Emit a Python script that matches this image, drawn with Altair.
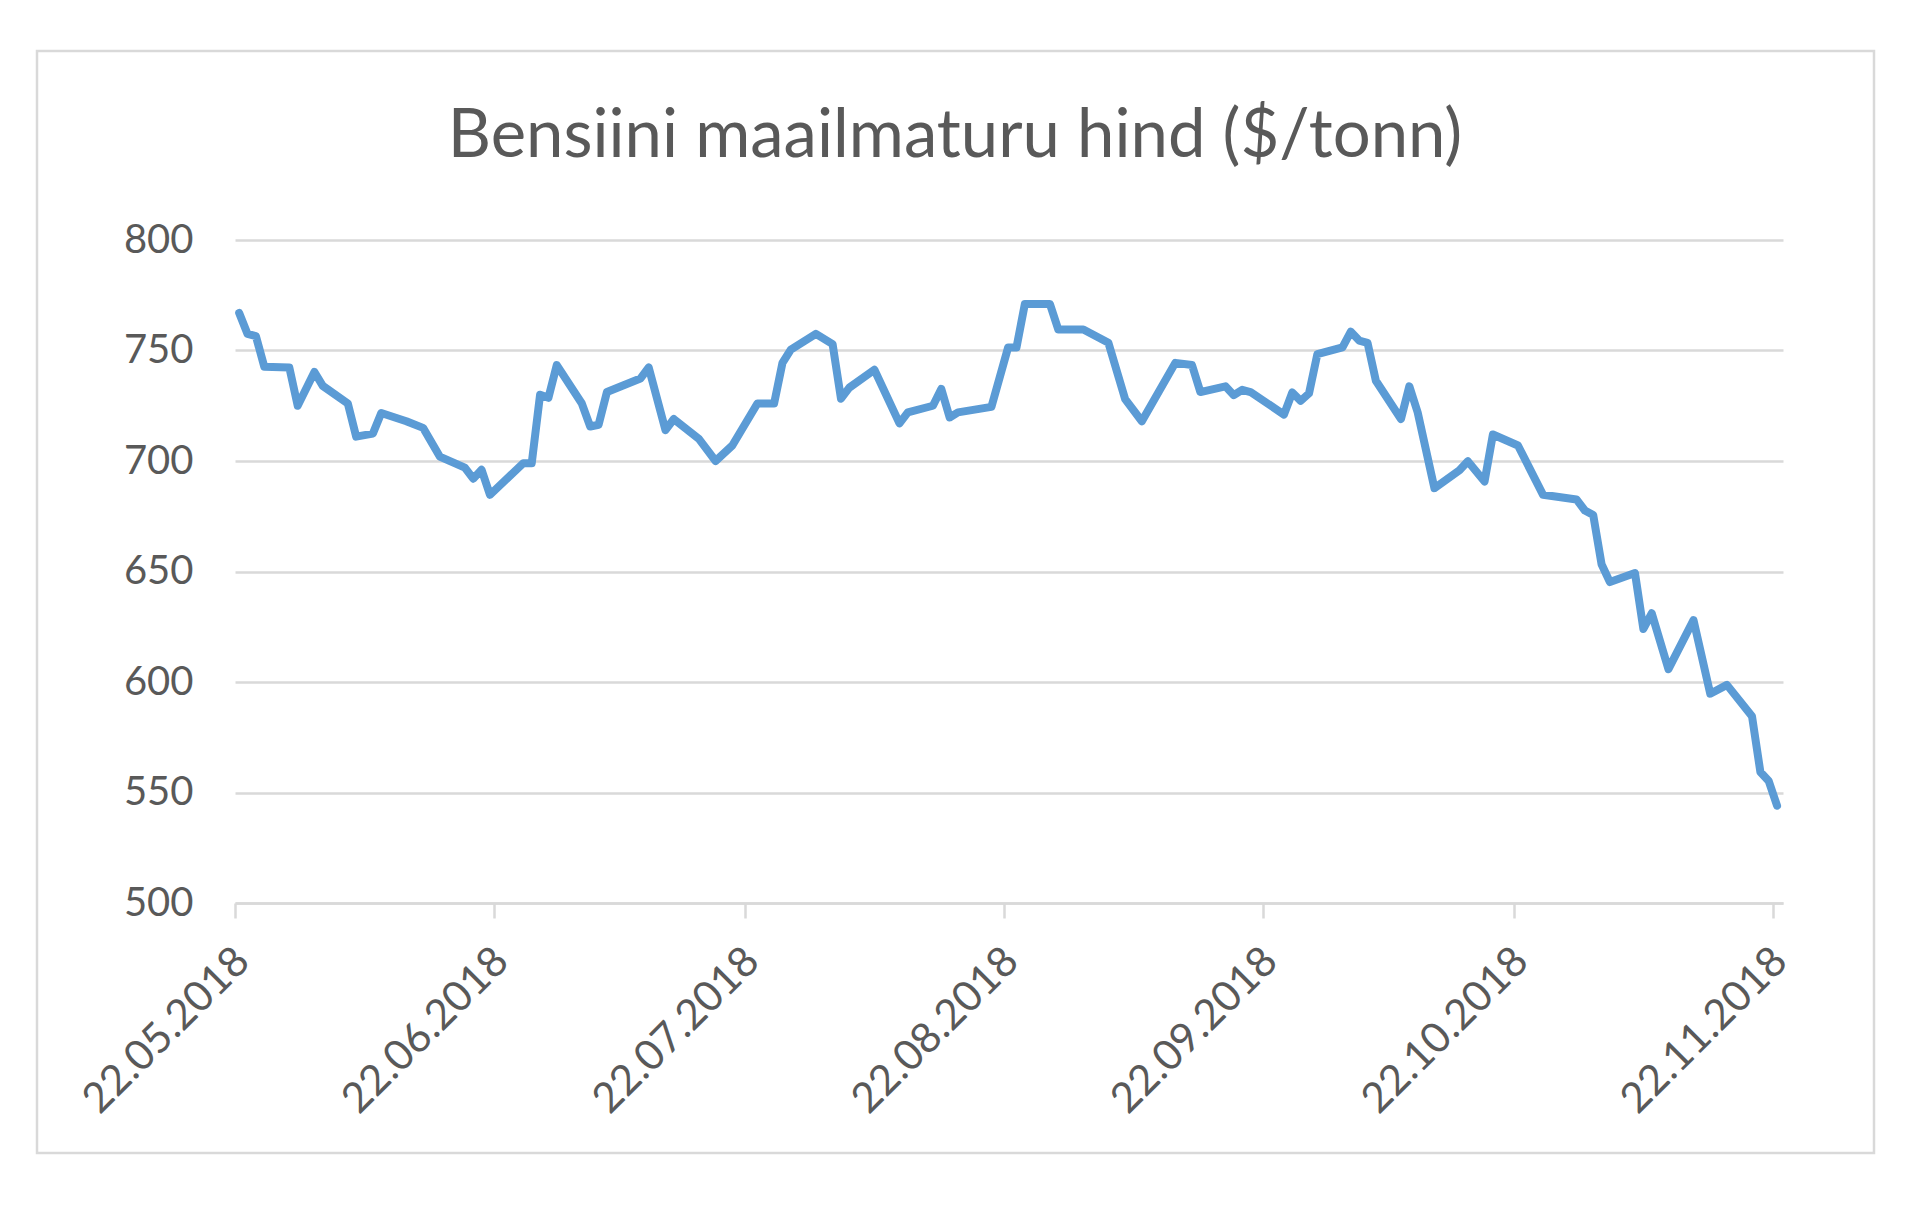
import altair as alt
import pandas as pd

# ---- data ----
dates = [
    "2018-05-22", "2018-05-23", "2018-05-24", "2018-05-25", "2018-05-28", "2018-05-29",
    "2018-05-31", "2018-06-01", "2018-06-04", "2018-06-05", "2018-06-07", "2018-06-08",
    "2018-06-11", "2018-06-13", "2018-06-15", "2018-06-18", "2018-06-19", "2018-06-20",
    "2018-06-21", "2018-06-25", "2018-06-26", "2018-06-27", "2018-06-28", "2018-06-29",
    "2018-07-02", "2018-07-03", "2018-07-04", "2018-07-05", "2018-07-09", "2018-07-10",
    "2018-07-12", "2018-07-13", "2018-07-16", "2018-07-18", "2018-07-20", "2018-07-23",
    "2018-07-25", "2018-07-26", "2018-07-27", "2018-07-30", "2018-08-01", "2018-08-02",
    "2018-08-03", "2018-08-06", "2018-08-09", "2018-08-10", "2018-08-13", "2018-08-14",
    "2018-08-15", "2018-08-16", "2018-08-20", "2018-08-22", "2018-08-23", "2018-08-24",
    "2018-08-27", "2018-08-28", "2018-08-31", "2018-09-03", "2018-09-05", "2018-09-07",
    "2018-09-11", "2018-09-13", "2018-09-14", "2018-09-17", "2018-09-18", "2018-09-19",
    "2018-09-20", "2018-09-24", "2018-09-25", "2018-09-26", "2018-09-27", "2018-09-28",
    "2018-10-01", "2018-10-02", "2018-10-03", "2018-10-04", "2018-10-05", "2018-10-08",
    "2018-10-09", "2018-10-10", "2018-10-12", "2018-10-15", "2018-10-16", "2018-10-18",
    "2018-10-19", "2018-10-22", "2018-10-25", "2018-10-29", "2018-10-30", "2018-10-31",
    "2018-11-01", "2018-11-02", "2018-11-05", "2018-11-06", "2018-11-07", "2018-11-09",
    "2018-11-12", "2018-11-14", "2018-11-16", "2018-11-19", "2018-11-20", "2018-11-21",
    "2018-11-22",
]
prices = [
    767.0, 757.5, 756.5, 742.7, 742.3, 725.0,
    740.3, 734.0, 726.0, 711.0, 712.4, 721.7,
    718.0, 715.0, 702.0, 697.0, 692.0, 696.0,
    684.7, 699.0, 699.0, 730.0, 728.6, 743.4,
    726.0, 715.6, 716.4, 731.2, 737.3, 742.3,
    714.0, 719.0, 710.0, 700.0, 707.0, 726.0,
    726.0, 744.4, 750.4, 757.5, 752.9, 728.2,
    733.2, 741.3, 717.0, 722.0, 725.0, 732.6,
    719.7, 722.0, 724.5, 751.4, 751.4, 771.0,
    771.0, 759.5, 759.5, 753.5, 728.0, 718.0,
    744.4, 743.4, 731.2, 733.8, 729.8, 732.2,
    731.2, 721.0, 731.0, 727.2, 730.6, 748.4,
    751.4, 758.5, 754.5, 753.5, 736.3, 719.0,
    733.8, 722.0, 687.7, 695.8, 699.9, 690.7,
    712.0, 707.0, 684.7, 682.6, 677.6, 675.6,
    653.3, 645.2, 649.3, 624.0, 631.1, 605.8,
    628.0, 594.7, 598.7, 584.5, 559.3, 555.2,
    544.0,
]
tick_dates = ["2018-05-22", "2018-06-22", "2018-07-22", "2018-08-22",
              "2018-09-22", "2018-10-22", "2018-11-22"]
y_ticks = [500, 550, 600, 650, 700, 750, 800]
title_text = "Bensiini maailmaturu hind ($/tonn)"

# each daily value sits in the middle of its day (Excel date axis)
df = pd.DataFrame({"date": [d + "T12:00:00Z" for d in dates], "price": prices})


def to_dt(s, hours=0):
    y, m, d = (int(p) for p in s.split("-"))
    return alt.DateTime(year=y, month=m, date=d, hours=hours, utc=True)


GRID = "#d9d9d9"
TXT = "#595959"
FONT = "Lato"

line = alt.Chart(df).mark_line(
    color="#5b9bd5", strokeWidth=8, strokeJoin="round", strokeCap="round"
).encode(
    x=alt.X(
        "date:T",
        scale=alt.Scale(type="utc", domain=[to_dt(tick_dates[0]), to_dt("2018-11-23", 5)]),
        axis=alt.Axis(
            values=[to_dt(t) for t in tick_dates],
            format="%d.%m.%Y",
            labelAngle=-45,
            labelAlign="right",
            labelBaseline="middle",
            labelFlush=False,
            labelOverlap=False,
            labelLimit=0,
            labelOffset=7,
            tickSize=15,
            tickWidth=2.5,
            tickColor=GRID,
            domainColor=GRID,
            domainWidth=2.5,
            labelPadding=36,
            labelFont=FONT,
            labelFontSize=42,
            labelColor=TXT,
            grid=False,
            title=None,
        ),
    ),
    y=alt.Y(
        "price:Q",
        scale=alt.Scale(domain=[500, 800], nice=False, zero=False),
        axis=alt.Axis(
            values=y_ticks,
            domain=False,
            ticks=False,
            grid=True,
            gridColor=GRID,
            gridWidth=2.5,
            labelPadding=42,
            labelFont=FONT,
            labelFontSize=40,
            labelColor=TXT,
            title=None,
        ),
    ),
)

border = alt.Chart(alt.Data(values=[{}])).mark_rect(
    fill=None, stroke=GRID, strokeWidth=2.5
).encode(
    x=alt.value(-198), x2=alt.value(1639), y=alt.value(-189), y2=alt.value(913)
)

chart = alt.layer(border, line).properties(
    width=1548,
    height=663,
    title=alt.TitleParams(
        title_text,
        font=FONT,
        fontSize=67,
        fontWeight="normal",
        color=TXT,
        anchor="middle",
        frame="group",
        baseline="alphabetic",
        offset=0,
        dy=174,
        dx=-54,
    ),
    autosize=alt.AutoSizeParams(type="none"),
    padding={"left": 227, "top": 232, "right": 110, "bottom": 270},
).configure(background="white", view=alt.ViewConfig(stroke=None))

chart.save("out.html", embed_options={"renderer": "svg", "actions": False})
